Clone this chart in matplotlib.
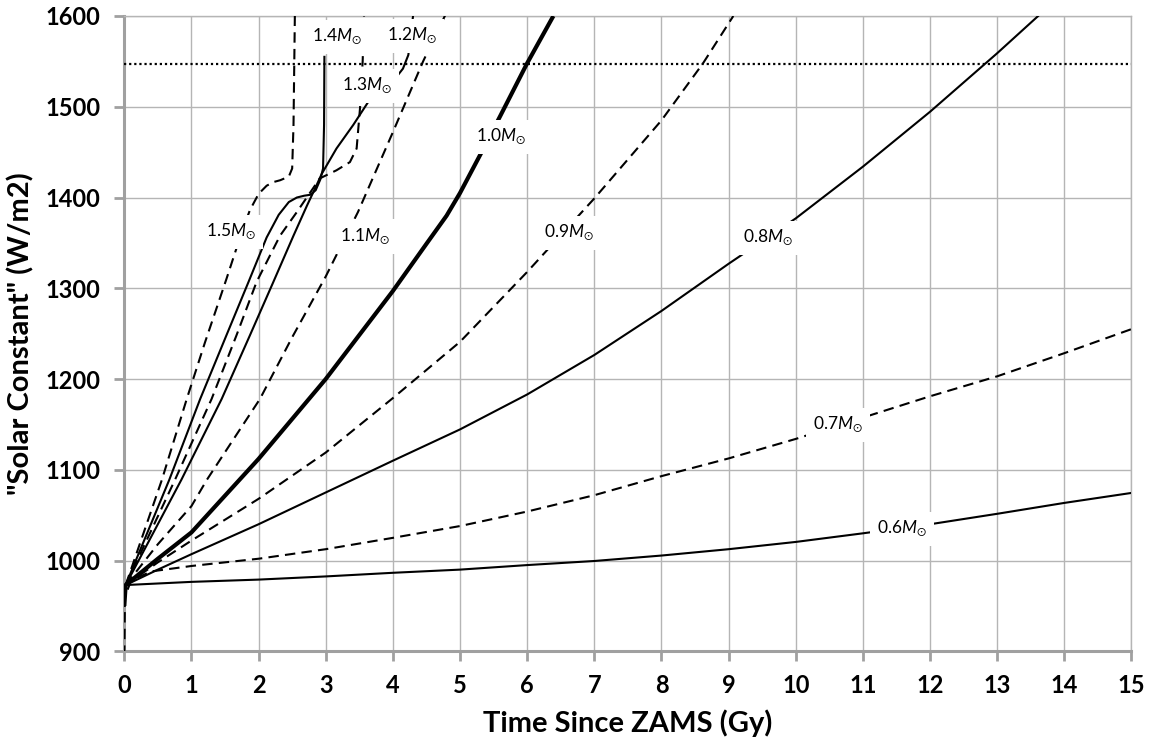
import matplotlib
matplotlib.use("Agg")
import matplotlib.pyplot as plt

# ---------------- data ----------------
t_06 = [0, 0.02, 1, 2, 3, 4, 5, 6, 7, 8, 9, 10, 11, 12, 13, 14, 15]
s_06 = [950, 973, 976.5, 979, 982.5, 986.5, 990, 995, 999.5, 1005.5, 1012.5, 1020.5, 1030, 1040, 1051.5, 1063.5, 1074.5]

t_07 = [0, 0.01, 0.1, 0.4, 1, 2, 3, 4, 5, 6, 7, 8, 9, 10, 11, 12, 13, 14, 15]
s_07 = [895, 960, 978, 988, 994, 1002, 1012.5, 1025, 1038, 1054, 1072, 1093, 1112.5, 1134, 1157.5, 1181, 1203, 1228.5, 1255]

t_08 = [0, 0.02, 0.5, 1, 2, 3, 4, 5, 6, 7, 8, 9, 10, 11, 12, 13, 13.61]
s_08 = [950, 973, 990, 1007, 1040, 1075, 1110, 1144.5, 1183, 1226.5, 1275, 1327, 1377, 1434, 1494.5, 1559, 1600]

t_09 = [0, 0.02, 0.5, 1, 2, 3, 4, 5, 6, 7, 8, 8.62, 9.07]
s_09 = [955, 973, 998, 1022, 1068, 1119, 1179, 1241, 1318, 1399, 1485, 1548, 1600]

t_10 = [0, 0.02, 0.5, 1, 2, 3, 4, 4.5, 4.8, 5, 5.3, 5.6, 6, 6.39]
s_10 = [950, 973, 1002, 1031, 1112, 1200, 1297, 1349, 1380, 1405, 1447, 1490, 1548, 1600]

t_11 = [0, 0.02, 0.5, 1, 1.23, 2.02, 2.5, 3.0, 3.48, 4.0, 4.45, 4.78]
s_11 = [955, 973, 1018, 1060, 1089, 1178, 1246, 1313, 1384, 1472, 1550, 1601]

t_12 = [0, 0.02, 0.85, 1.45, 1.87, 2.22, 2.52, 2.72, 2.86, 2.94, 3.16, 3.41, 3.63, 3.98, 4.15, 4.23, 4.30]
s_12 = [950, 973, 1089, 1178, 1248, 1307, 1358, 1391, 1413, 1426, 1454, 1480, 1505, 1526, 1542, 1557, 1600]

t_13 = [0, 0.02, 0.755, 1.3, 1.67, 1.97, 2.32, 2.57, 2.81, 2.91, 3.16, 3.36, 3.46, 3.51, 3.55, 3.57]
s_13 = [955, 973, 1089, 1178, 1248, 1307, 1358, 1384, 1410, 1421, 1430, 1439, 1454, 1498, 1550, 1600]

t_14 = [0, 0.02, 0.67, 1.13, 1.52, 1.85, 2.12, 2.3, 2.45, 2.57, 2.68, 2.77, 2.85, 2.92, 2.96, 2.975, 2.98]
s_14 = [950, 973, 1089, 1178, 1248, 1307, 1356, 1381, 1395, 1400, 1402, 1403, 1408, 1420, 1432, 1480, 1555]

t_15 = [0, 0.02, 0.56, 0.93, 1.2, 1.52, 1.75, 1.87, 2.0, 2.12, 2.22, 2.32, 2.45, 2.5, 2.52, 2.54]
s_15 = [955, 973, 1089, 1178, 1240, 1310, 1362, 1386, 1404, 1413, 1417, 1419, 1423, 1432, 1480, 1600]

masses = ["0.6", "0.7", "0.8", "0.9", "1.0", "1.1", "1.2", "1.3", "1.4", "1.5"]
times = [t_06, t_07, t_08, t_09, t_10, t_11, t_12, t_13, t_14, t_15]
values = [s_06, s_07, s_08, s_09, s_10, s_11, s_12, s_13, s_14, s_15]

# label anchor positions (Gy, W/m2)
label_x = [11.58, 10.63, 9.59, 6.62, 5.61, 3.59, 4.29, 3.62, 3.16, 1.59]
label_y = [1035, 1149, 1355, 1361, 1467, 1357, 1578, 1523, 1577, 1362]

reference_level = 1547
x_ticks = list(range(0, 16))
y_ticks = list(range(900, 1601, 100))

# ---------------- styling ----------------
plt.rcParams['mathtext.fontset'] = 'custom'
plt.rcParams['mathtext.rm'] = 'Lato'
plt.rcParams['mathtext.it'] = 'Lato:italic'
plt.rcParams['mathtext.fallback'] = 'stixsans'

fig = plt.figure(figsize=(11.52, 7.44), dpi=100)
ax = fig.add_axes([0.1079, 0.1246, 0.8743, 0.8539])

dashed_style = dict(linestyle=(0, (5, 3)), linewidth=1.5)
for m, t, s in zip(masses, times, values):
    tenth = int(round(float(m) * 10))
    if m == "1.0":
        ax.plot(t, s, color='black', linewidth=3.0, solid_capstyle='butt',
                solid_joinstyle='round', zorder=3)
    elif tenth % 2 == 1:
        ax.plot(t, s, color='black', zorder=3, **dashed_style)
    else:
        ax.plot(t, s, color='black', linewidth=1.5, solid_joinstyle='round', zorder=3)

ax.axhline(reference_level, color='black', linestyle=(0, (1, 1.3)), linewidth=1.6, zorder=3)

for m, lx, ly in zip(masses, label_x, label_y):
    ax.text(lx, ly, m + r'$\mathit{M}_{\odot}$', fontsize=12.5, family='Lato',
            ha='center', va='center', zorder=5,
            bbox=dict(facecolor='white', edgecolor='none', pad=5))

ax.set_xlim(0, 15)
ax.set_ylim(900, 1600)
ax.set_xticks(x_ticks)
ax.set_yticks(y_ticks)
ax.grid(True, color='#b5b5b5', linewidth=1.0, zorder=0)
ax.set_axisbelow(True)

for side in ['left', 'bottom']:
    ax.spines[side].set_color('#a0a0a0')
    ax.spines[side].set_linewidth(2.2)
for side in ['top', 'right']:
    ax.spines[side].set_color('#b5b5b5')
    ax.spines[side].set_linewidth(1.0)

ax.tick_params(axis='both', direction='out', length=7, width=2, color='#a0a0a0',
               labelsize=17)
ax.tick_params(axis='y', pad=10)
ax.tick_params(axis='x', pad=9)
for lab in ax.get_xticklabels() + ax.get_yticklabels():
    lab.set_family('Lato')
    lab.set_fontweight('bold')

ax.set_xlabel('Time Since ZAMS (Gy)', fontsize=21, fontweight='bold', family='Lato', labelpad=9)
ax.set_ylabel('"Solar Constant" (W/m2)', fontsize=21, fontweight='bold', family='Lato', labelpad=8)

fig.savefig('out.png', dpi=100)
